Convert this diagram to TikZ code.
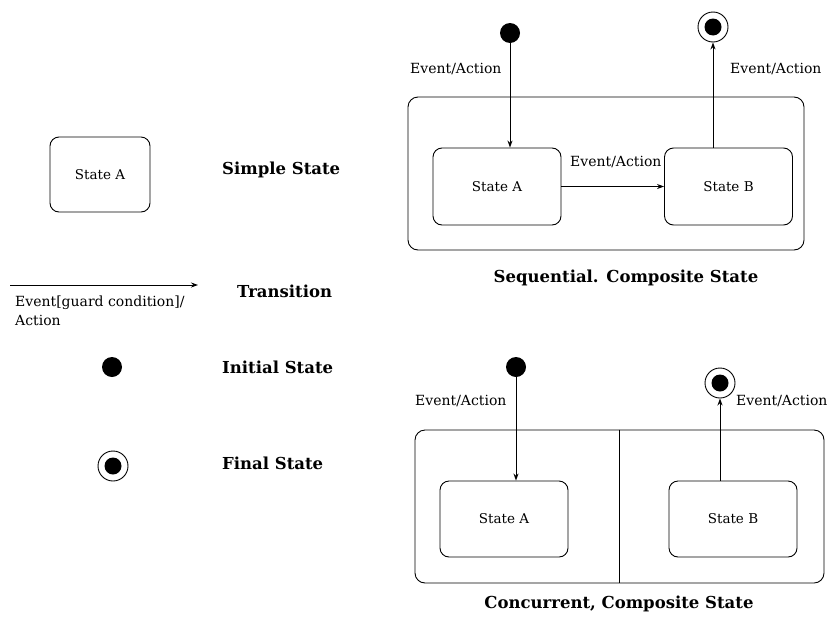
\documentclass[tikz,border=0pt]{standalone}
\usepackage{fontspec}
\setmainfont{DejaVu Serif}
\usetikzlibrary{arrows.meta}
\tikzset{
  statebox/.style={draw, rounded corners=9pt, line width=0.9pt, inner sep=0pt,
    font=\fontsize{13.5}{15}\selectfont},
  compbox/.style={draw, rounded corners=10pt, line width=0.9pt, inner sep=0pt},
  initdot/.style={circle, fill=black, inner sep=0pt, minimum size=20pt},
  finring/.style={circle, draw, line width=0.9pt, inner sep=0pt, minimum size=30pt},
  findot/.style={circle, fill=black, inner sep=0pt, minimum size=17pt},
  small/.style={font=\fontsize{14}{16}\selectfont, inner sep=0pt},
  title/.style={font=\fontsize{16.5}{19}\selectfont\bfseries, inner sep=0pt},
  arr/.style={line width=0.9pt, -{Stealth[length=7pt,width=5pt]}},
}
\begin{document}
\begin{tikzpicture}[x=1pt,y=-1pt]
\useasboundingbox (0,0) rectangle (832,616);

% ---------- legend ----------
\node[statebox, minimum width=100pt, minimum height=75pt] (simpleA) at (100,174.5) {State A};
\node[title, anchor=west] (lblSimple) at (222,170) {Simple State};

\coordinate (t1) at (10,285);
\coordinate (t2) at (198,285);
\draw[arr] (t1) -- (t2);
\node[title, anchor=west] (lblTrans) at (237,291) {Transition};
\node[small, anchor=north west, align=left] (lblGuard) at (15,296) {Event[guard condition]/\\[3pt]Action};

\node[initdot] (legInit) at (112,367) {};
\node[title, anchor=west] (lblInit) at (222,367) {Initial State};

\node[finring] (legFinR) at (113,466) {};
\node[findot] (legFin) at (113,466) {};
\node[title, anchor=west] (lblFin) at (222,463) {Final State};

% ---------- sequential composite ----------
\node[compbox, minimum width=396pt, minimum height=153pt] (comp1) at (606,173.5) {};
\node[statebox, minimum width=128pt, minimum height=77pt] (sA1) at (497,186.5) {State A};
\node[statebox, minimum width=128pt, minimum height=77pt] (sB1) at (728.5,186.5) {State B};
\node[initdot] (init1) at (510,33) {};
\node[finring] (fin1R) at (713,27) {};
\node[findot] (fin1) at (713,27) {};
\draw[arr] (init1) -- (init1 |- sA1.north);
\draw[arr] (fin1R |- sB1.north) -- (fin1R.south);
\draw[arr] (sA1.east) -- (sB1.west);
\node[small, anchor=west] (e1) at (410,69) {Event/Action};
\node[small, anchor=west] (e2) at (730,69) {Event/Action};
\node[small, anchor=west] (e3) at (570,162) {Event/Action};
\node[title] (lblSeq) at (626,278) {Sequential. Composite State};

% ---------- concurrent composite ----------
\node[compbox, minimum width=409pt, minimum height=153pt] (comp2) at (619.5,506.5) {};
\draw[line width=0.9pt] (comp2.north) -- (comp2.south);
\node[statebox, minimum width=128pt, minimum height=76pt] (sA2) at (504,519) {State A};
\node[statebox, minimum width=128pt, minimum height=76pt] (sB2) at (733,519) {State B};
\node[initdot] (init2) at (516,367) {};
\node[finring] (fin2R) at (720,383) {};
\node[findot] (fin2) at (720,383) {};
\draw[arr] (init2) -- (init2 |- sA2.north);
\draw[arr] (fin2R |- sB2.north) -- (fin2R.south);
\node[small, anchor=west] (e4) at (415,401) {Event/Action};
\node[small, anchor=west] (e5) at (736,401) {Event/Action};
\node[title] (lblConc) at (619,604) {Concurrent, Composite State};
\end{tikzpicture}
\end{document}
